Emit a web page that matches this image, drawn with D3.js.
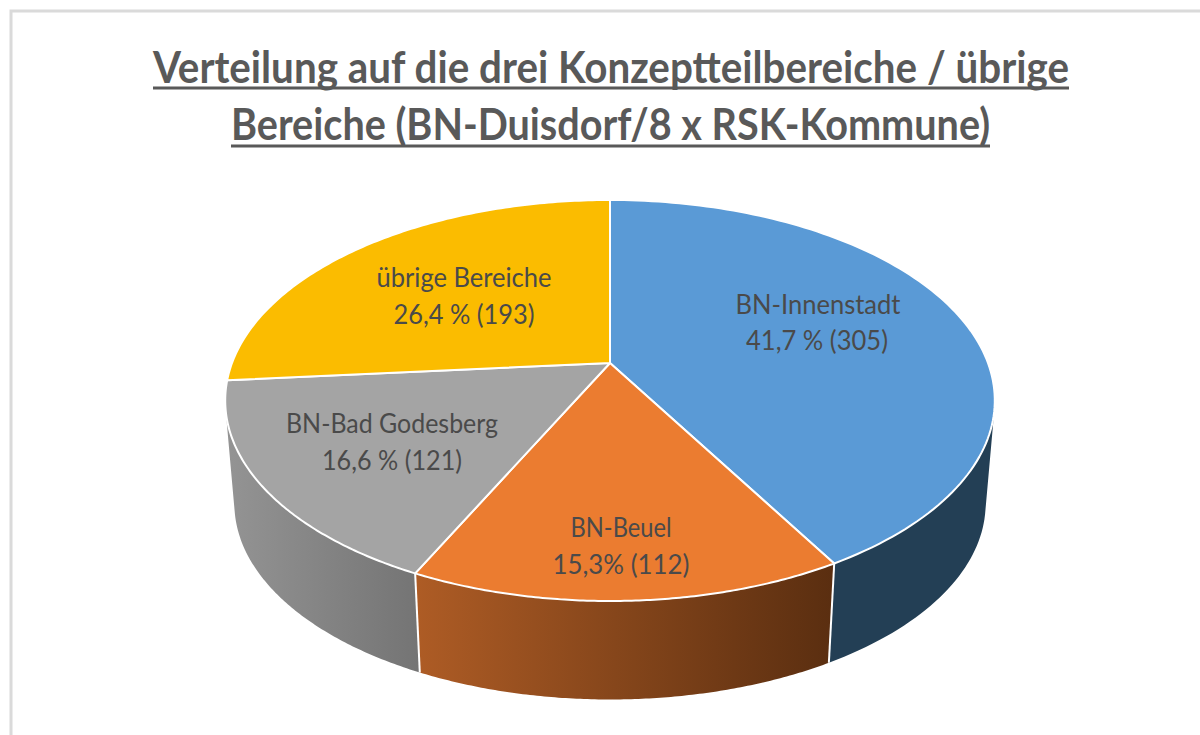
<!DOCTYPE html>
<html><head><meta charset="utf-8">
<script src="https://cdnjs.cloudflare.com/ajax/libs/d3/7.8.5/d3.min.js"></script>
<style>html,body{margin:0;padding:0;background:#fff}svg{display:block}</style>
</head><body><svg id="c" width="1200" height="735"></svg>
<script>
const titleLines = ["Verteilung auf die drei Konzeptteilbereiche / übrige","Bereiche (BN-Duisdorf/8 x RSK-Kommune)"];
const categories = ["BN-Innenstadt","BN-Beuel","BN-Bad Godesberg","übrige Bereiche"];
const counts = [305,112,121,193];
const percentLabels = ["41,7 % (305)","15,3% (112)","16,6 % (121)","26,4 % (193)"];
const topColors = ["#5A9AD6","#EB7C30","#A4A4A4","#FBBC00"];
const wallStops = [["#233F55","#233F55"],["#AE5C25","#5A2E10"],["#949494","#747474"],["#997300","#997300"]];
const labelBoxes = [[818,305,165,817,341,142],[621,528,101,621,565,137],[392,424,212,392,461,140],[464,278,175,464,315,141]];
const titleBoxes = [[611,916,82.5,88],[610.5,759,140,146]];
const wallOrder = [3,0,2,1];

const svg = d3.select("#c");
const persp = 0.187;
const project = (a, cy, bx, by) => {
  const u = Math.sin(a), v = Math.cos(a), w = 1 + persp * v;
  return [610 + bx * u / w, cy - by * v / w];
};
const topPt = a => project(a, 363, 378, 193.5);
const botPt = a => project(a, 467, 369, 189);
const pie = d3.pie().sort(null).value(d => d).startAngle(0).endAngle(2 * Math.PI);
const arcs = pie(counts);
const line = d3.line();
const sample = d => d3.range(0, 121).map(i => d.startAngle + (d.endAngle - d.startAngle) * i / 120);

svg.append("rect").attr("x",11).attr("y",11).attr("width",1300).attr("height",900)
  .attr("fill","#fff").attr("stroke","#DADADA").attr("stroke-width",3);

const defs = svg.append("defs");
arcs.forEach((d,i) => {
  const xs = sample(d).flatMap(a => [topPt(a)[0], botPt(a)[0]]);
  const g = defs.append("linearGradient").attr("id","w"+i).attr("gradientUnits","userSpaceOnUse")
    .attr("x1",d3.min(xs)).attr("x2",d3.max(xs)).attr("y1",0).attr("y2",0);
  g.append("stop").attr("offset",0).attr("stop-color",wallStops[i][0]);
  g.append("stop").attr("offset",1).attr("stop-color",wallStops[i][1]);
});

// walls: one quad per arc step, all wound the same way so their union fills
const wallPath = d => {
  const s = sample(d);
  return d3.pairs(s).map(([a,b]) => {
    const q = [topPt(a), topPt(b), botPt(b), botPt(a)];
    if (d3.polygonArea(q) < 0) q.reverse();
    return line(q) + "Z";
  }).join("");
};
svg.append("g").selectAll("path").data(wallOrder).join("path")
  .attr("d",i => wallPath(arcs[i]))
  .attr("fill",i => `url(#w${i})`);

// front boundary edges
svg.append("g").selectAll("line").data(arcs.filter(d => Math.cos(d.endAngle) < -0.5)).join("line")
  .attr("x1",d => topPt(d.endAngle)[0]).attr("y1",d => topPt(d.endAngle)[1])
  .attr("x2",d => botPt(d.endAngle)[0]).attr("y2",d => botPt(d.endAngle)[1])
  .attr("stroke","#fff").attr("stroke-width",2);

// top faces
svg.append("g").selectAll("path").data(arcs).join("path")
  .attr("d",d => line([[610,363]].concat(sample(d).map(topPt))) + "Z")
  .attr("fill",(d,i) => topColors[i])
  .attr("stroke","#fff").attr("stroke-width",2).attr("stroke-linejoin","round");

const fontFam = "Lato,'Open Sans',sans-serif";
// title
svg.append("g").selectAll("text").data(titleLines).join("text")
  .attr("x",(d,i) => titleBoxes[i][0]).attr("y",(d,i) => titleBoxes[i][2])
  .attr("text-anchor","middle").attr("font-family",fontFam).attr("font-weight",700)
  .attr("font-size",43).attr("fill","#595959")
  .attr("textLength",(d,i) => titleBoxes[i][1]).attr("lengthAdjust","spacingAndGlyphs")
  .text(d => d);
svg.append("g").selectAll("line").data(titleBoxes).join("line")
  .attr("x1",d => d[0]-d[1]/2).attr("x2",d => d[0]+d[1]/2)
  .attr("y1",d => d[3]).attr("y2",d => d[3])
  .attr("stroke","#595959").attr("stroke-width",3);

// labels
const lab = svg.append("g").attr("font-family",fontFam).attr("font-size",27).attr("fill","#4A4A4A").attr("text-anchor","middle");
categories.forEach((c,i) => {
  const b = labelBoxes[i];
  lab.append("text").attr("x",b[0]).attr("y",b[1]+9).attr("textLength",b[2]).attr("lengthAdjust","spacingAndGlyphs").text(c);
  lab.append("text").attr("x",b[3]).attr("y",b[4]+9).attr("textLength",b[5]).attr("lengthAdjust","spacingAndGlyphs").text(percentLabels[i]);
});
</script></body></html>
